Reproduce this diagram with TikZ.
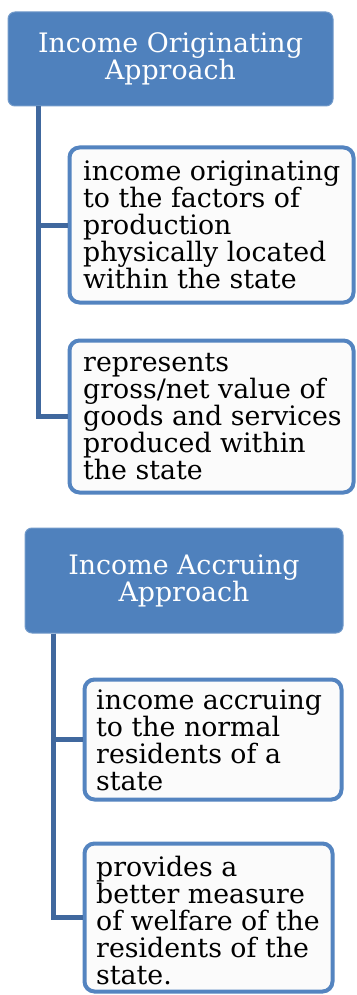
\documentclass[tikz,border=0pt]{standalone}
\usepackage{fontspec}
\setmainfont{DejaVu Serif}
\newfontfamily\bodyfont{DejaVu Serif}
\definecolor{hdr}{RGB}{79,129,189}
\definecolor{conn}{RGB}{64,104,158}
\definecolor{bord}{RGB}{84,132,192}
\begin{document}
\begin{tikzpicture}[x=1pt,y=-1pt,
  header/.style={draw=hdr!80!white, line width=1pt, fill=hdr, rounded corners=7pt,
    inner sep=0pt, text=white, align=center,
    font=\bodyfont\fontsize{26.8}{27}\selectfont},
  item/.style={draw=bord, line width=4pt, fill=white!97!gray, rounded corners=10pt,
    inner sep=0pt},
  itemtext/.style={anchor=west, align=left, inner sep=0pt,
    font=\bodyfont\fontsize{26.8}{27}\selectfont},
  link/.style={draw=conn, line width=5pt}]
\useasboundingbox[fill=white] (0,0) rectangle (356,995);
% group 1
\node[header, minimum width=325pt, minimum height=94pt] (h1) at (170.5,59)
  {Income Originating\\Approach};
\node[item, minimum width=284pt, minimum height=155pt] (c1) at (211.5,225) {};
\node[itemtext] (t1) at (83,225)
  {income originating\\to the factors of\\production\\physically located\\within the state};
\node[item, minimum width=284pt, minimum height=152pt] (c2) at (211.5,416.5) {};
\node[itemtext] (t2) at (83,416.5)
  {represents\\gross/net value of\\goods and services\\produced within\\the state};
% group 2
\node[header, minimum width=318pt, minimum height=105pt] (h2) at (184,580.5)
  {Income Accruing\\Approach};
\node[item, minimum width=257pt, minimum height=120pt] (c3) at (213,739.5) {};
\node[itemtext] (t3) at (96,740)
  {income accruing\\to the normal\\residents of a\\state};
\node[item, minimum width=248pt, minimum height=148pt] (c4) at (208.5,917.5) {};
\node[itemtext] (t4) at (96,920)
  {provides a\\better measure\\of welfare of the\\residents of the\\state.};
% connectors
\coordinate (v1) at ([xshift=31pt]h1.south west);
\coordinate (v2) at ([xshift=29pt]h2.south west);
\draw[link] (v1) |- (c1.west);
\draw[link] (v1) |- (c2.west);
\draw[link] (v2) |- (c3.west);
\draw[link] (v2) |- (c4.west);
\end{tikzpicture}
\end{document}
